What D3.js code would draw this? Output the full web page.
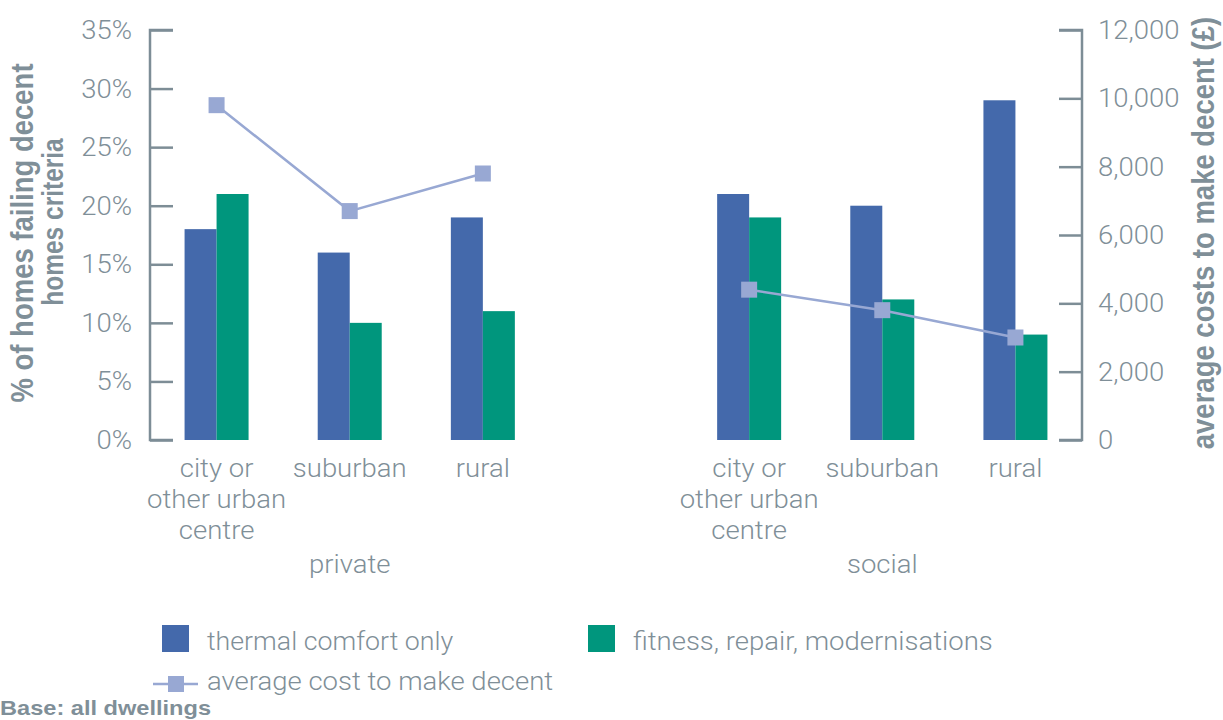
<!DOCTYPE html>
<html>
<head>
<meta charset="utf-8">
<script src="https://cdn.jsdelivr.net/npm/d3@7"></script>
<style>
  html, body { margin: 0; padding: 0; background: #fff; }
  svg { display: block; }
  .lbl { font-family: Roboto, "Liberation Sans", sans-serif; font-weight: 300; fill: #7f8f98; }
  .ttl { font-family: "Liberation Sans", Arial, sans-serif; font-weight: bold; fill: #7f8f98; }
</style>
</head>
<body>
<svg id="chart" width="1223" height="720"></svg>
<script>
// Tenure groups and the location categories inside each
const groups = ["private", "social"];
const locations = ["city or other urban centre", "suburban", "rural"];
const locationLines = [["city or", "other urban", "centre"], ["suburban"], ["rural"]];

// % of homes failing decent homes criteria
const thermalComfort = [18, 16, 19, 21, 20, 29];
const fitnessRepair = [21, 10, 11, 19, 12, 9];
// average cost to make decent (£)
const avgCost = [9800, 6700, 7800, 4400, 3800, 3000];

const leftTicks = [0, 5, 10, 15, 20, 25, 30, 35];
const rightTicks = [0, 2000, 4000, 6000, 8000, 10000, 12000];

const colBlue = "#4469ab", colGreen = "#00967d", colLine = "#98a8d3", colAxis = "#7d8d96";

const svg = d3.select("#chart");
const plotTop = 30, plotBottom = 440, plotLeft = 150, plotRight = 1082;

// Text helper: places a label at (x, y) with a slightly widened face
const LIGHT = { cls: "lbl", size: 25, sx: 1.1 };
function label(parent, x, y, str, style, anchor = "start", rotate = false) {
  return parent.append("text")
    .attr("class", style.cls).attr("font-size", style.size)
    .attr("text-anchor", anchor)
    .attr("transform", `translate(${x},${y}) scale(${style.sx},1)` + (rotate ? " rotate(-90)" : ""))
    .text(str);
}

// Seven slots: three per group plus an empty gap slot between the groups
const slots = [];
groups.forEach((g, gi) => {
  locations.forEach(l => slots.push(g + "|" + l));
  if (gi === 0) slots.push("gap");
});
const x = d3.scaleBand().domain(slots).range([plotLeft, plotRight]).padding(0);
const yL = d3.scaleLinear().domain([0, 35]).range([plotBottom, plotTop]);
const yR = d3.scaleLinear().domain([0, 12000]).range([plotBottom, plotTop]);

const rows = [];
groups.forEach((g, gi) => locations.forEach((l, li) => {
  const i = gi * 3 + li;
  rows.push({ key: g + "|" + l, group: g, li, thermal: thermalComfort[i], fitness: fitnessRepair[i], cost: avgCost[i] });
}));
const cx = d => x(d.key) + x.bandwidth() / 2;
const barW = 32;

// Bars
svg.append("g").selectAll("rect").data(rows).join("rect")
  .attr("x", d => cx(d) - barW).attr("width", barW)
  .attr("y", d => yL(d.thermal)).attr("height", d => yL(0) - yL(d.thermal))
  .attr("fill", colBlue);
svg.append("g").selectAll("rect").data(rows).join("rect")
  .attr("x", d => cx(d)).attr("width", barW)
  .attr("y", d => yL(d.fitness)).attr("height", d => yL(0) - yL(d.fitness))
  .attr("fill", colGreen);

// Axes with inward ticks
const axL = svg.append("g").attr("transform", `translate(${plotLeft},0)`)
  .call(d3.axisRight(yL).tickValues(leftTicks).tickSize(23).tickFormat(""));
const axR = svg.append("g").attr("transform", `translate(${plotRight},0)`)
  .call(d3.axisLeft(yR).tickValues(rightTicks).tickSize(23).tickFormat(""));
[axL, axR].forEach(a => {
  a.select(".domain").attr("stroke", colAxis).attr("stroke-width", 2.5);
  a.selectAll(".tick line").attr("stroke", colAxis).attr("stroke-width", 2.5);
});
axL.select(".domain").attr("d", `M23,${plotBottom}H0V${plotTop}H23`);
axR.select(".domain").attr("d", `M-23,${plotBottom}H0V${plotTop}H-23`);

// Tick labels
const tickG = svg.append("g");
leftTicks.forEach(v => label(tickG, 132, yL(v) + 9, v + "%", LIGHT, "end"));
rightTicks.forEach(v => label(tickG, 1098, yR(v) + 9, d3.format(",")(v), LIGHT, "start"));

// Category labels
const catG = svg.append("g");
rows.forEach(d => {
  locationLines[d.li].forEach((s, k) => label(catG, cx(d), 477 + k * 31, s, LIGHT, "middle"));
});
groups.forEach(g => {
  const mid = x(g + "|" + locations[1]) + x.bandwidth() / 2;
  label(catG, mid, 573, g, LIGHT, "middle");
});

// Cost line, one segment per group
const line = d3.line().x(cx).y(d => yR(d.cost));
groups.forEach(g => {
  const seg = rows.filter(r => r.group === g);
  svg.append("path").datum(seg).attr("d", line)
    .attr("fill", "none").attr("stroke", colLine).attr("stroke-width", 2.5);
  svg.append("g").selectAll("rect").data(seg).join("rect")
    .attr("x", d => cx(d) - 8).attr("y", d => yR(d.cost) - 8)
    .attr("width", 16).attr("height", 16).attr("fill", colLine);
});

// Axis titles
label(svg, 33, 233, "% of homes failing decent", { cls: "ttl", size: 27.5, sx: 1.15 }, "middle", true);
label(svg, 63, 222, "homes criteria", { cls: "ttl", size: 24.5, sx: 1.2 }, "middle", true);
label(svg, 1214, 233, "average costs to make decent (£)", { cls: "ttl", size: 27.5, sx: 1.15 }, "middle", true);

// Legend
const lg = svg.append("g");
lg.append("rect").attr("x", 162).attr("y", 625).attr("width", 27).attr("height", 27).attr("fill", colBlue);
label(lg, 207, 650, "thermal comfort only", { cls: "lbl", size: 25, sx: 1.07 });
lg.append("rect").attr("x", 588).attr("y", 625).attr("width", 27).attr("height", 27).attr("fill", colGreen);
label(lg, 633, 650, "fitness, repair, modernisations", LIGHT);
lg.append("line").attr("x1", 153).attr("x2", 198).attr("y1", 684).attr("y2", 684).attr("stroke", colLine).attr("stroke-width", 2.5);
lg.append("rect").attr("x", 168).attr("y", 676).attr("width", 16).attr("height", 16).attr("fill", colLine);
label(lg, 207, 690, "average cost to make decent", LIGHT);

label(svg, 0, 715, "Base: all dwellings", { cls: "ttl", size: 20, sx: 1.18 });
</script>
</body>
</html>
